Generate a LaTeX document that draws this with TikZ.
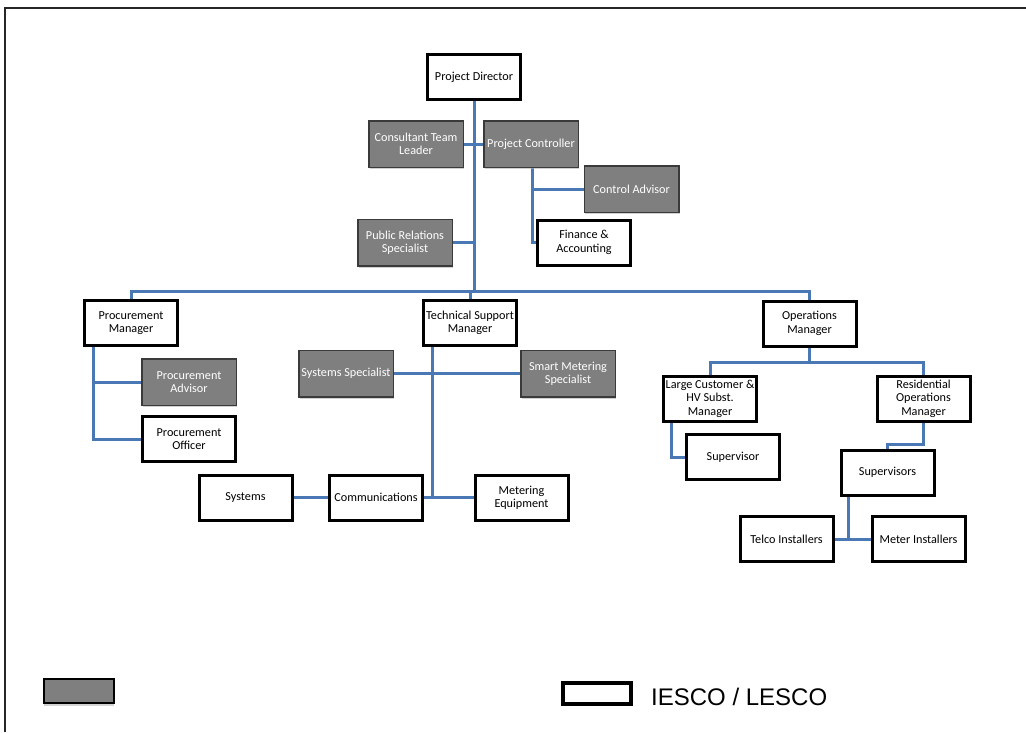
\documentclass[tikz,border=0pt]{standalone}
\usepackage{fontspec}
\setmainfont{Carlito}
\newfontfamily\arialf{Liberation Sans}
\usetikzlibrary{backgrounds,shadows}
\definecolor{conn}{HTML}{4A78B4}
\definecolor{gfill}{HTML}{7F7F7F}
\definecolor{gedge}{HTML}{3A3A3A}
\begin{document}
\begin{tikzpicture}[x=1pt,y=-1pt,
  wbox/.style={draw=black, line width=3pt, fill=white, minimum width=93pt, minimum height=45pt,
    inner sep=1pt, align=center, font=\fontsize{12.2}{13.4}\selectfont},
  gbox/.style={draw=gedge, line width=1.5pt, fill=gfill, text=white, minimum width=94.5pt, minimum height=46.5pt,
    inner sep=1pt, align=center, font=\fontsize{12.2}{13.4}\selectfont,
    drop shadow={shadow xshift=1pt, shadow yshift=-2pt, fill=black!30, opacity=0.6}},
  link/.style={draw=conn, line width=3pt},
]
\useasboundingbox (0,0) rectangle (1026,732);
\draw[line width=2pt, black!85] (5,732) -- (5,8) -- (1026,8);

% top
\node[wbox] (PD) at (474,77) {Project Director};
\node[gbox] (CTL) at (416,144) {Consultant Team\\Leader};
\node[gbox] (PC) at (531,144) {Project Controller};
\node[gbox] (CA) at (631.5,189) {Control Advisor};
\node[wbox] (FA) at (584,242.5) {Finance \&\\Accounting};
\node[gbox] (PR) at (405,242.5) {Public Relations\\Specialist};

% managers
\node[wbox] (PM) at (131,323) {Procurement\\Manager};
\node[wbox] (TSM) at (470,323) {Technical Support\\Manager};
\node[wbox] (OM) at (809.5,323.5) {Operations\\Manager};

% procurement
\node[gbox] (PA) at (189,382) {Procurement\\Advisor};
\node[wbox] (PO) at (189,439) {Procurement\\Officer};

% technical
\node[gbox] (SS) at (346,373.5) {Systems Specialist};
\node[gbox] (SMS) at (568,373.5) {Smart Metering\\Specialist};
\node[wbox] (SYS) at (245.5,497.5) {Systems};
\node[wbox] (COM) at (376,497.5) {Communications};
\node[wbox] (ME) at (521.5,497.5) {Metering\\Equipment};

% operations
\node[wbox] (LC) at (710,398.5) {Large Customer \&\\HV Subst.\\Manager};
\node[wbox] (RO) at (923.5,398.5) {Residential\\Operations\\Manager};
\node[wbox] (SUP) at (733,457) {Supervisor};
\node[wbox] (SUPS) at (887.5,472.5) {Supervisors};
\node[wbox] (TI) at (786.5,539) {Telco Installers};
\node[wbox] (MI) at (918.5,539) {Meter Installers};

% legend
\node[draw=black, line width=1.5pt, fill=gfill, minimum width=70pt, minimum height=24pt, inner sep=0pt,
  drop shadow={shadow xshift=0pt, shadow yshift=-3pt, fill=black!35}] (LG) at (79,691) {};
\node[draw=black, line width=4pt, fill=white, minimum width=68pt, minimum height=21pt, inner sep=0pt] (LW) at (597,693.5) {};
\node[anchor=west, inner sep=0pt, font=\arialf\fontsize{24}{28}\selectfont] (LT) at (651,697) {IESCO / LESCO};

% junction coordinates
\coordinate (bar) at (0,291);
\coordinate (pcv) at (532,0);
\coordinate (pmv) at (93,0);
\coordinate (tsv) at (432,0);
\coordinate (omb) at (0,362);
\coordinate (lcv) at (671,0);
\coordinate (rob) at (0,444);
\coordinate (supv) at (848,0);

\begin{pgfonlayer}{background}
\draw[link] (PD.south) -- (PD.south |- bar);
\draw[link] (PM.north) -- (PM.north |- bar) -- (OM.north |- bar) -- (OM.north);
\draw[link] (TSM.north) -- (TSM.north |- bar);
\draw[link] (CTL.east) -- (PC.west);
\draw[link] (PR.east) -- (PD.south |- PR.east);
\draw[link] (PC.south -| pcv) |- (FA.west);
\draw[link] (CA.west) -- (CA.west -| pcv);
\draw[link] (PM.south -| pmv) |- (PO.west);
\draw[link] (PA.west) -- (PA.west -| pmv);
\draw[link] (TSM.south -| tsv) -- (tsv |- ME.west);
\draw[link] (SS.east) -- (SMS.west);
\draw[link] (SYS.east) -- (COM.west);
\draw[link] (COM.east) -- (ME.west);
\draw[link] (OM.south) -- (OM.south |- omb);
\draw[link] (LC.north) -- (LC.north |- omb) -- (RO.north |- omb) -- (RO.north);
\draw[link] (LC.south -| lcv) |- (SUP.west);
\draw[link] (RO.south) -- (RO.south |- rob) -| (SUPS.north);
\draw[link] (SUPS.south -| supv) -- (supv |- TI.east);
\draw[link] (TI.east) -- (MI.west);
\end{pgfonlayer}
\end{tikzpicture}
\end{document}
